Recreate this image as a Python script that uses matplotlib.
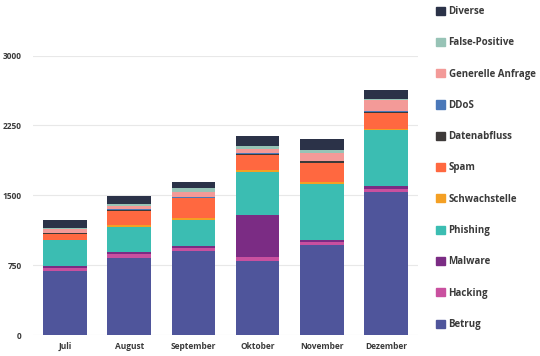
import numpy as np
import matplotlib.pyplot as plt
from matplotlib.patches import Patch

plt.rcParams['font.family'] = ['Open Sans', 'DejaVu Sans']

monate = ["Juli", "August", "September", "Oktober", "November", "Dezember"]

# stacked from bottom to top
kategorien = ["Betrug", "Hacking", "Malware", "Phishing", "Schwachstelle", "Spam",
              "Datenabfluss", "DDoS", "Generelle Anfrage", "False-Positive", "Diverse"]
farben = ["#4F559B", "#C9509F", "#7B2C84", "#3BBDB2", "#F4A024", "#FF6840",
          "#3E3A39", "#4A78B9", "#F39A98", "#97C3B6", "#2B3248"]

betrug = [692, 828, 903, 799, 967, 1535]
hacking = [25, 43, 32, 43, 32, 32]
malware = [25, 21, 21, 443, 21, 29]
phishing = [275, 275, 286, 464, 607, 603]
schwachstelle = [10, 14, 17, 21, 17, 15]
spam = [64, 153, 211, 168, 208, 171]
datenabfluss = [8, 15, 7, 11, 17, 14]
ddos = [2, 2, 2, 2, 2, 2]
generelle = [40, 36, 60, 46, 86, 118]
false_positive = [14, 21, 36, 32, 29, 11]
diverse = [82, 89, 71, 107, 115, 104]

werte = [betrug, hacking, malware, phishing, schwachstelle, spam,
         datenabfluss, ddos, generelle, false_positive, diverse]

fig = plt.figure(figsize=(5.4, 3.56), dpi=100)
ax = fig.add_axes([0.061, 0.058, 0.713, 0.786])

x = np.arange(len(monate))
unten = np.zeros(len(monate))
for name, farbe, w in zip(kategorien, farben, werte):
    ax.bar(x, w, bottom=unten, width=0.68, color=farbe, label=name, zorder=3)
    unten += np.array(w)

ax.set_ylim(0, 3000)
ax.set_xlim(-0.5, len(monate) - 0.5)
ax.set_yticks([0, 750, 1500, 2250, 3000])
ax.set_xticks(x)
ax.set_xticklabels(monate)
ax.grid(axis='y', color='#e8e8e8', linewidth=0.8, zorder=0)
for s in ax.spines.values():
    s.set_visible(False)
ax.tick_params(length=0, labelsize=6.0, colors='#3a3a3a', pad=5)
ax.tick_params(axis='y', pad=8)
for t in ax.get_xticklabels() + ax.get_yticklabels():
    t.set_fontweight('bold')

handles = [Patch(color=c) for c in farben][::-1]
fig.legend(handles, kategorien[::-1], loc='upper left', bbox_to_anchor=(0.792, 1.008),
           frameon=False, prop={'size': 7, 'weight': 'bold'},
           handlelength=0.9, handleheight=0.9, handletextpad=0.35, labelspacing=2.09,
           labelcolor='#3a3a3a')

fig.savefig("out.png", dpi=100)
